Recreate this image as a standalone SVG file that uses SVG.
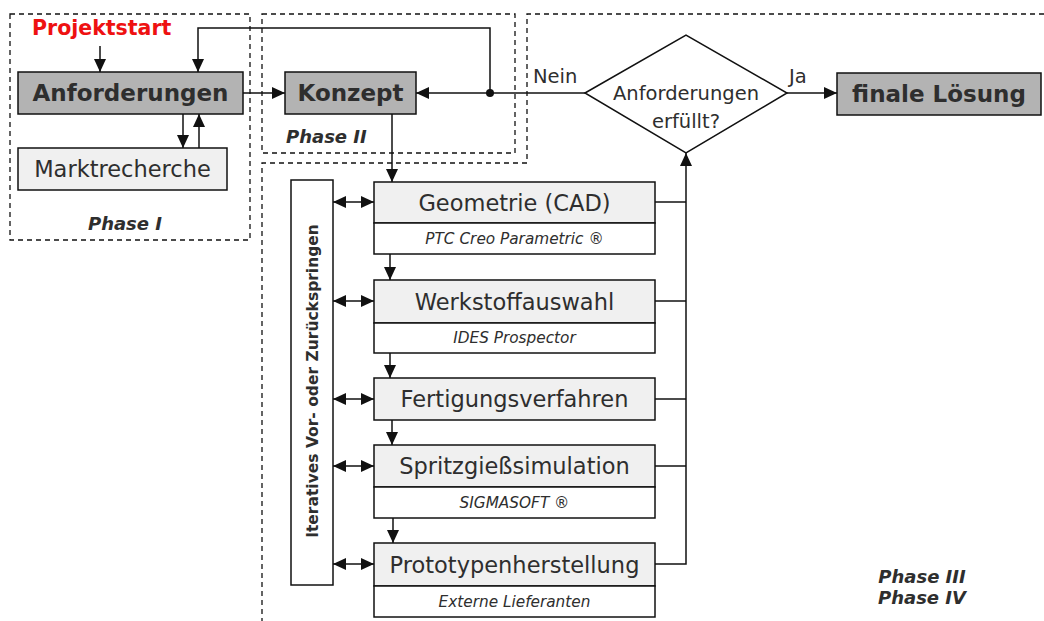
<svg xmlns="http://www.w3.org/2000/svg" width="1044" height="621" viewBox="0 0 1044 621">
  <style>
    .bg { fill: #ffffff; }
    .phase { fill: none; stroke: #111; stroke-width: 1.3; stroke-dasharray: 5 4; }
    .box { stroke: #111; stroke-width: 1.5; }
    .main { fill: #b3b3b3; }
    .step { fill: #f0f0f0; }
    .sub { fill: #ffffff; }
    .line { fill: none; stroke: #111; stroke-width: 1.5; }
    .t { font-family: "DejaVu Sans", Verdana, sans-serif; fill: #2e2e2e; }
    .big { font-size: 23px; font-weight: bold; text-anchor: middle; }
    .head { font-size: 22.5px; text-anchor: middle; }
    .small { font-size: 15.3px; font-style: italic; text-anchor: middle; }
    .lbl { font-size: 19.5px; }
    .ph { font-size: 18px; font-weight: bold; font-style: italic; }
  </style>
  <defs>
    <marker id="ah" viewBox="0 0 13 12" refX="13" refY="6" markerWidth="13" markerHeight="12" markerUnits="userSpaceOnUse" orient="auto-start-reverse">
      <path d="M0,0 L13,6 L0,12 z" fill="#111"/>
    </marker>
  </defs>
  <rect class="bg" x="0" y="0" width="1044" height="621"/>

  <!-- phase boundaries -->
  <g id="phases">
    <rect class="phase" x="10" y="14" width="240" height="226"/>
    <rect class="phase" x="262" y="14" width="253" height="139"/>
    <path class="phase" d="M1044,14 H527 V163 H262 V621"/>
    <text class="t ph" x="125" y="230" text-anchor="middle">Phase I</text>
    <text class="t ph" x="286" y="143">Phase II</text>
    <text class="t ph" x="922" y="583" text-anchor="middle" font-size="19">Phase III</text>
    <text class="t ph" x="922" y="604" text-anchor="middle" font-size="19">Phase IV</text>
  </g>

  <!-- connectors -->
  <g id="connectors">
    <path class="line" d="M100,46 V72" marker-end="url(#ah)"/>
    <path class="line" d="M490,93 V28 H198 V72" marker-end="url(#ah)"/>
    <path class="line" d="M183,114 V148" marker-end="url(#ah)"/>
    <path class="line" d="M199,148 V114" marker-end="url(#ah)"/>
    <path class="line" d="M243,93 H285" marker-end="url(#ah)"/>
    <path class="line" d="M585,93 H416" marker-end="url(#ah)"/>
    <circle cx="490" cy="93" r="4" fill="#111"/>
    <path class="line" d="M787,93 H837" marker-end="url(#ah)"/>
    <path class="line" d="M392,114 V182" marker-end="url(#ah)"/>
    <path class="line" d="M390,254 V280" marker-end="url(#ah)"/>
    <path class="line" d="M390,353 V378" marker-end="url(#ah)"/>
    <path class="line" d="M392,420 V445" marker-end="url(#ah)"/>
    <path class="line" d="M393,518 V543" marker-end="url(#ah)"/>
    <path class="line" d="M333,202 H374" marker-start="url(#ah)" marker-end="url(#ah)"/>
    <path class="line" d="M333,301 H374" marker-start="url(#ah)" marker-end="url(#ah)"/>
    <path class="line" d="M333,399 H374" marker-start="url(#ah)" marker-end="url(#ah)"/>
    <path class="line" d="M333,466 H374" marker-start="url(#ah)" marker-end="url(#ah)"/>
    <path class="line" d="M333,564 H374" marker-start="url(#ah)" marker-end="url(#ah)"/>
    <path class="line" d="M655,202 H686"/>
    <path class="line" d="M655,301 H686"/>
    <path class="line" d="M655,399 H686"/>
    <path class="line" d="M655,466 H686"/>
    <path class="line" d="M655,564 H686 V153" marker-end="url(#ah)"/>
    <text class="t lbl" x="533" y="83">Nein</text>
    <text class="t lbl" x="789" y="83">Ja</text>
  </g>

  <g id="projektstart">
    <text class="t" x="32" y="35" font-size="20.5" font-weight="bold" style="fill:#ee1111">Projektstart</text>
  </g>

  <g id="anforderungen">
    <rect class="box main" x="18" y="72" width="225" height="42"/>
    <text class="t big" x="130.5" y="101">Anforderungen</text>
  </g>

  <g id="marktrecherche">
    <rect class="box step" x="18" y="148" width="209" height="42"/>
    <text class="t head" x="122.5" y="177">Marktrecherche</text>
  </g>

  <g id="konzept">
    <rect class="box main" x="285" y="72" width="131" height="42"/>
    <text class="t big" x="350.5" y="101">Konzept</text>
  </g>

  <g id="entscheidung">
    <polygon class="line" points="585,93 686,35 787,93 686,153" fill="#fff"/>
    <text class="t lbl" x="686" y="100" text-anchor="middle">Anforderungen</text>
    <text class="t lbl" x="686" y="128" text-anchor="middle">erfüllt?</text>
  </g>

  <g id="finale-loesung">
    <rect class="box main" x="837" y="73" width="204" height="42"/>
    <text class="t big" x="939" y="102">finale Lösung</text>
  </g>

  <g id="iterativ">
    <rect class="box sub" x="291" y="180" width="42" height="405"/>
    <text class="t" transform="translate(318,381) rotate(-90)" text-anchor="middle" font-size="15.5" font-weight="bold">Iteratives Vor- oder Zurückspringen</text>
  </g>

  <g id="geometrie">
    <rect class="box step" x="374" y="182" width="281" height="41"/>
    <rect class="box sub" x="374" y="223" width="281" height="31"/>
    <text class="t head" x="514.5" y="211">Geometrie (CAD)</text>
    <text class="t small" x="514.5" y="244">PTC Creo Parametric ®</text>
  </g>

  <g id="werkstoffauswahl">
    <rect class="box step" x="374" y="280" width="281" height="43"/>
    <rect class="box sub" x="374" y="323" width="281" height="30"/>
    <text class="t head" x="514.5" y="310">Werkstoffauswahl</text>
    <text class="t small" x="514.5" y="343">IDES Prospector</text>
  </g>

  <g id="fertigungsverfahren">
    <rect class="box step" x="374" y="378" width="281" height="42"/>
    <text class="t head" x="514.5" y="407">Fertigungsverfahren</text>
  </g>

  <g id="spritzgiesssimulation">
    <rect class="box step" x="374" y="445" width="281" height="42"/>
    <rect class="box sub" x="374" y="487" width="281" height="31"/>
    <text class="t head" x="514.5" y="474">Spritzgießsimulation</text>
    <text class="t small" x="514.5" y="508">SIGMASOFT ®</text>
  </g>

  <g id="prototypenherstellung">
    <rect class="box step" x="374" y="543" width="281" height="43"/>
    <rect class="box sub" x="374" y="586" width="281" height="31"/>
    <text class="t head" x="514.5" y="573">Prototypenherstellung</text>
    <text class="t small" x="514.5" y="607">Externe Lieferanten</text>
  </g>
</svg>
